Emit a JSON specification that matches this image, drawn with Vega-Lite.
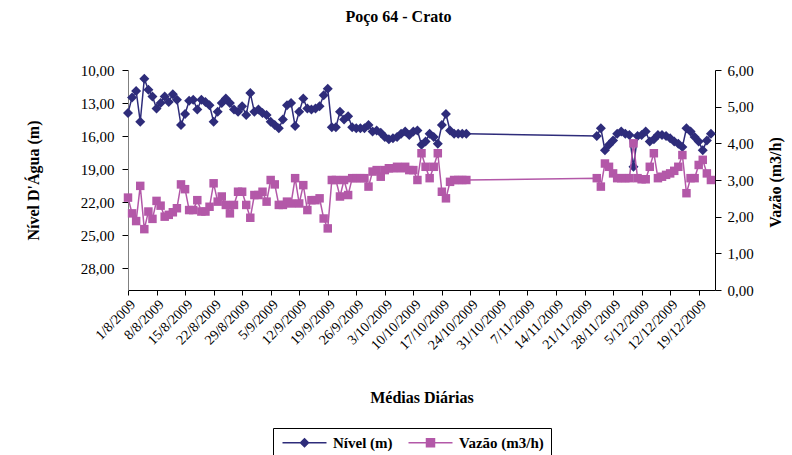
{
  "$schema": "https://vega.github.io/schema/vega-lite/v6.json",
  "width": 587,
  "height": 220,
  "autosize": "none",
  "padding": {"left": 128, "top": 70, "right": 77, "bottom": 165},
  "background": "white",
  "config": {
    "font": "Liberation Serif",
    "view": {"stroke": null},
    "axis": {"grid": false, "labelColor": "black", "titleColor": "black", "tickColor": "black", "domainColor": "black", "labelFont": "Liberation Serif", "titleFont": "Liberation Serif"}
  },
  "title": {"text": "Poço 64 - Crato", "font": "Liberation Serif", "fontSize": 16, "fontWeight": "bold", "color": "black", "anchor": "middle", "offset": 38, "dx": -23},
  "data": {"values": [
    {"dia": "2009-08-01", "nivel": 13.9, "vazao": 2.52},
    {"dia": "2009-08-02", "nivel": 12.5, "vazao": 2.09},
    {"dia": "2009-08-03", "nivel": 11.9, "vazao": 1.88},
    {"dia": "2009-08-04", "nivel": 14.7, "vazao": 2.84},
    {"dia": "2009-08-05", "nivel": 10.8, "vazao": 1.66},
    {"dia": "2009-08-06", "nivel": 11.8, "vazao": 2.14},
    {"dia": "2009-08-07", "nivel": 12.4, "vazao": 1.94},
    {"dia": "2009-08-08", "nivel": 13.5, "vazao": 2.43},
    {"dia": "2009-08-09", "nivel": 13.0, "vazao": 2.30},
    {"dia": "2009-08-10", "nivel": 12.4, "vazao": 2.00},
    {"dia": "2009-08-11", "nivel": 12.9, "vazao": 2.05},
    {"dia": "2009-08-12", "nivel": 12.2, "vazao": 2.12},
    {"dia": "2009-08-13", "nivel": 12.7, "vazao": 2.23},
    {"dia": "2009-08-14", "nivel": 15.0, "vazao": 2.88},
    {"dia": "2009-08-15", "nivel": 14.0, "vazao": 2.75},
    {"dia": "2009-08-16", "nivel": 12.8, "vazao": 2.18},
    {"dia": "2009-08-17", "nivel": 12.7, "vazao": 2.18},
    {"dia": "2009-08-18", "nivel": 13.6, "vazao": 2.45},
    {"dia": "2009-08-19", "nivel": 12.7, "vazao": 2.14},
    {"dia": "2009-08-20", "nivel": 12.9, "vazao": 2.14},
    {"dia": "2009-08-21", "nivel": 13.2, "vazao": 2.27},
    {"dia": "2009-08-22", "nivel": 14.7, "vazao": 2.91},
    {"dia": "2009-08-23", "nivel": 13.8, "vazao": 2.41},
    {"dia": "2009-08-24", "nivel": 13.0, "vazao": 2.55},
    {"dia": "2009-08-25", "nivel": 12.6, "vazao": 2.32},
    {"dia": "2009-08-26", "nivel": 13.0, "vazao": 2.09},
    {"dia": "2009-08-27", "nivel": 13.6, "vazao": 2.32},
    {"dia": "2009-08-28", "nivel": 13.8, "vazao": 2.68},
    {"dia": "2009-08-29", "nivel": 13.3, "vazao": 2.68},
    {"dia": "2009-08-30", "nivel": 14.1, "vazao": 2.32},
    {"dia": "2009-08-31", "nivel": 12.1, "vazao": 1.97},
    {"dia": "2009-09-01", "nivel": 13.8, "vazao": 2.59},
    {"dia": "2009-09-02", "nivel": 13.6, "vazao": 2.59},
    {"dia": "2009-09-03", "nivel": 13.9, "vazao": 2.68},
    {"dia": "2009-09-04", "nivel": 14.1, "vazao": 2.41},
    {"dia": "2009-09-05", "nivel": 14.7, "vazao": 3.00},
    {"dia": "2009-09-06", "nivel": 15.0, "vazao": 2.88},
    {"dia": "2009-09-07", "nivel": 15.3, "vazao": 2.32},
    {"dia": "2009-09-08", "nivel": 14.5, "vazao": 2.32},
    {"dia": "2009-09-09", "nivel": 13.2, "vazao": 2.41},
    {"dia": "2009-09-10", "nivel": 13.0, "vazao": 2.36},
    {"dia": "2009-09-11", "nivel": 15.1, "vazao": 3.05},
    {"dia": "2009-09-12", "nivel": 13.8, "vazao": 2.36},
    {"dia": "2009-09-13", "nivel": 12.6, "vazao": 2.86},
    {"dia": "2009-09-14", "nivel": 13.5, "vazao": 2.18},
    {"dia": "2009-09-15", "nivel": 13.6, "vazao": 2.45},
    {"dia": "2009-09-16", "nivel": 13.5, "vazao": 2.45},
    {"dia": "2009-09-17", "nivel": 13.3, "vazao": 2.50},
    {"dia": "2009-09-18", "nivel": 12.3, "vazao": 1.95},
    {"dia": "2009-09-19", "nivel": 11.7, "vazao": 1.68},
    {"dia": "2009-09-20", "nivel": 15.2, "vazao": 3.00},
    {"dia": "2009-09-21", "nivel": 15.2, "vazao": 3.00},
    {"dia": "2009-09-22", "nivel": 13.8, "vazao": 2.55},
    {"dia": "2009-09-23", "nivel": 14.5, "vazao": 3.00},
    {"dia": "2009-09-24", "nivel": 14.2, "vazao": 2.59},
    {"dia": "2009-09-25", "nivel": 15.2, "vazao": 3.05},
    {"dia": "2009-09-26", "nivel": 15.3, "vazao": 3.05},
    {"dia": "2009-09-27", "nivel": 15.3, "vazao": 3.05},
    {"dia": "2009-09-28", "nivel": 15.3, "vazao": 3.05},
    {"dia": "2009-09-29", "nivel": 15.0, "vazao": 2.82},
    {"dia": "2009-09-30", "nivel": 15.6, "vazao": 3.23},
    {"dia": "2009-10-01", "nivel": 15.5, "vazao": 3.27},
    {"dia": "2009-10-02", "nivel": 15.7, "vazao": 3.09},
    {"dia": "2009-10-03", "nivel": 16.1, "vazao": 3.27},
    {"dia": "2009-10-04", "nivel": 16.3, "vazao": 3.32},
    {"dia": "2009-10-05", "nivel": 16.2, "vazao": 3.32},
    {"dia": "2009-10-06", "nivel": 16.1, "vazao": 3.36},
    {"dia": "2009-10-07", "nivel": 15.8, "vazao": 3.32},
    {"dia": "2009-10-08", "nivel": 15.6, "vazao": 3.36},
    {"dia": "2009-10-09", "nivel": 15.9, "vazao": 3.27},
    {"dia": "2009-10-10", "nivel": 15.6, "vazao": 3.27},
    {"dia": "2009-10-11", "nivel": 15.5, "vazao": 3.00},
    {"dia": "2009-10-12", "nivel": 16.8, "vazao": 3.73},
    {"dia": "2009-10-13", "nivel": 16.5, "vazao": 3.36},
    {"dia": "2009-10-14", "nivel": 15.8, "vazao": 3.05},
    {"dia": "2009-10-15", "nivel": 16.1, "vazao": 3.36},
    {"dia": "2009-10-16", "nivel": 16.7, "vazao": 3.73},
    {"dia": "2009-10-17", "nivel": 15.0, "vazao": 2.68},
    {"dia": "2009-10-18", "nivel": 14.0, "vazao": 2.50},
    {"dia": "2009-10-19", "nivel": 15.5, "vazao": 2.95},
    {"dia": "2009-10-20", "nivel": 15.8, "vazao": 3.00},
    {"dia": "2009-10-21", "nivel": 15.8, "vazao": 3.00},
    {"dia": "2009-10-22", "nivel": 15.8, "vazao": 3.00},
    {"dia": "2009-10-23", "nivel": 15.8, "vazao": 3.00},
    {"dia": "2009-11-24", "nivel": 16.0, "vazao": 3.05},
    {"dia": "2009-11-25", "nivel": 15.3, "vazao": 2.82},
    {"dia": "2009-11-26", "nivel": 17.3, "vazao": 3.45},
    {"dia": "2009-11-27", "nivel": 16.8, "vazao": 3.36},
    {"dia": "2009-11-28", "nivel": 16.4, "vazao": 3.18},
    {"dia": "2009-11-29", "nivel": 15.8, "vazao": 3.05},
    {"dia": "2009-11-30", "nivel": 15.6, "vazao": 3.05},
    {"dia": "2009-12-01", "nivel": 15.8, "vazao": 3.05},
    {"dia": "2009-12-02", "nivel": 15.9, "vazao": 3.05},
    {"dia": "2009-12-03", "nivel": 18.8, "vazao": 4.00},
    {"dia": "2009-12-04", "nivel": 16.0, "vazao": 3.05},
    {"dia": "2009-12-05", "nivel": 15.9, "vazao": 3.02},
    {"dia": "2009-12-06", "nivel": 15.6, "vazao": 3.02},
    {"dia": "2009-12-07", "nivel": 16.5, "vazao": 3.36},
    {"dia": "2009-12-08", "nivel": 16.3, "vazao": 3.73},
    {"dia": "2009-12-09", "nivel": 15.9, "vazao": 3.05},
    {"dia": "2009-12-10", "nivel": 15.9, "vazao": 3.09},
    {"dia": "2009-12-11", "nivel": 16.0, "vazao": 3.14},
    {"dia": "2009-12-12", "nivel": 16.2, "vazao": 3.18},
    {"dia": "2009-12-13", "nivel": 16.5, "vazao": 3.25},
    {"dia": "2009-12-14", "nivel": 16.7, "vazao": 3.36},
    {"dia": "2009-12-15", "nivel": 17.0, "vazao": 3.68},
    {"dia": "2009-12-16", "nivel": 15.3, "vazao": 2.64},
    {"dia": "2009-12-17", "nivel": 15.6, "vazao": 3.05},
    {"dia": "2009-12-18", "nivel": 16.1, "vazao": 3.05},
    {"dia": "2009-12-19", "nivel": 16.5, "vazao": 3.41},
    {"dia": "2009-12-20", "nivel": 17.3, "vazao": 3.55},
    {"dia": "2009-12-21", "nivel": 16.4, "vazao": 3.18},
    {"dia": "2009-12-22", "nivel": 15.8, "vazao": 3.00}
  ]},
  "encoding": {
    "x": {
      "field": "dia", "type": "temporal",
      "scale": {"type": "utc", "domain": [{"year": 2009, "month": 8, "date": 1, "utc": true}, {"year": 2009, "month": 12, "date": 23, "utc": true}]},
      "axis": {
        "values": [
          {"year": 2009, "month": 8, "date": 1, "utc": true},
          {"year": 2009, "month": 8, "date": 8, "utc": true},
          {"year": 2009, "month": 8, "date": 15, "utc": true},
          {"year": 2009, "month": 8, "date": 22, "utc": true},
          {"year": 2009, "month": 8, "date": 29, "utc": true},
          {"year": 2009, "month": 9, "date": 5, "utc": true},
          {"year": 2009, "month": 9, "date": 12, "utc": true},
          {"year": 2009, "month": 9, "date": 19, "utc": true},
          {"year": 2009, "month": 9, "date": 26, "utc": true},
          {"year": 2009, "month": 10, "date": 3, "utc": true},
          {"year": 2009, "month": 10, "date": 10, "utc": true},
          {"year": 2009, "month": 10, "date": 17, "utc": true},
          {"year": 2009, "month": 10, "date": 24, "utc": true},
          {"year": 2009, "month": 10, "date": 31, "utc": true},
          {"year": 2009, "month": 11, "date": 7, "utc": true},
          {"year": 2009, "month": 11, "date": 14, "utc": true},
          {"year": 2009, "month": 11, "date": 21, "utc": true},
          {"year": 2009, "month": 11, "date": 28, "utc": true},
          {"year": 2009, "month": 12, "date": 5, "utc": true},
          {"year": 2009, "month": 12, "date": 12, "utc": true},
          {"year": 2009, "month": 12, "date": 19, "utc": true}
        ],
        "labelExpr": "utcFormat(datum.value, '%-d/%-m/%Y')",
        "labelAngle": -45, "labelFontSize": 14, "labelPadding": 2, "tickSize": 5,
        "labelOverlap": false, "labelFlush": false, "labelBound": false,
        "title": "Médias Diárias", "titleFontSize": 16, "titleFontWeight": "bold", "titleY": 107, "titleBaseline": "middle"
      }
    }
  },
  "layer": [
    {
      "encoding": {
        "y": {
          "field": "nivel", "type": "quantitative",
          "scale": {"domain": [10, 30], "reverse": true, "zero": false, "nice": false},
          "axis": {
            "orient": "left", "values": [10, 13, 16, 19, 22, 25, 28],
            "labelExpr": "replace(format(datum.value, '.2f'), '.', ',')",
            "labelFontSize": 15, "tickSize": 6, "labelPadding": 8, "domainColor": "#808080",
            "title": "Nível D'Água (m)", "titleFontSize": 16, "titleFontWeight": "bold",
            "titleX": -95, "titleY": 110, "titleAngle": -90, "titleAlign": "center", "titleBaseline": "middle"
          }
        }
      },
      "layer": [
        {
          "mark": {"type": "line", "strokeWidth": 1.5},
          "encoding": {
            "color": {
              "datum": "Nível (m)", "type": "nominal",
              "scale": {"domain": ["Nível (m)", "Vazão (m3/h)"], "range": ["#2E2C7A", "#B358A8"]},
              "legend": {
                "orient": "none", "legendX": 145, "legendY": 358, "direction": "horizontal", "columns": 2,
                "title": null, "strokeColor": "black", "fillColor": "white", "padding": 7,
                "labelFont": "Liberation Serif", "labelFontSize": 15, "labelFontWeight": "bold", "labelColor": "black", "labelLimit": 300,
                "symbolSize": 100, "labelOffset": 38, "columnPadding": 12,
                "encode": {
                  "symbols": {
                    "update": {
                      "shape": {"signal": "datum.value === 'Nível (m)' ? 'M-1,0H7.8M3.4,-0.8L4.2,0L3.4,0.8L2.6,0Z' : 'M-1,0H7.8M2.6,-0.8H4.2V0.8H2.6Z'"},
                      "fill": {"signal": "datum.value === 'Nível (m)' ? '#2E2C7A' : '#B358A8'"},
                      "stroke": {"signal": "datum.value === 'Nível (m)' ? '#2E2C7A' : '#B358A8'"},
                      "strokeWidth": {"value": 1.5},
                      "opacity": {"value": 1}
                    }
                  }
                }
              }
            }
          }
        },
        {
          "mark": {"type": "point", "shape": "diamond", "filled": true, "size": 100, "opacity": 1},
          "encoding": {"color": {"datum": "Nível (m)", "type": "nominal"}}
        }
      ]
    },
    {
      "encoding": {
        "y": {
          "field": "vazao", "type": "quantitative",
          "scale": {"domain": [0, 6], "nice": false},
          "axis": {
            "orient": "right", "values": [0, 1, 2, 3, 4, 5, 6],
            "labelExpr": "replace(format(datum.value, '.2f'), '.', ',')",
            "labelFontSize": 15, "tickSize": 6, "labelPadding": 6,
            "title": "Vazão (m3/h)", "titleFontSize": 16, "titleFontWeight": "bold",
            "titleX": 60, "titleY": 112, "titleAngle": -90, "titleAlign": "center", "titleBaseline": "middle"
          }
        }
      },
      "layer": [
        {
          "mark": {"type": "line", "strokeWidth": 1.5},
          "encoding": {"color": {"datum": "Vazão (m3/h)", "type": "nominal"}}
        },
        {
          "mark": {"type": "point", "shape": "square", "filled": true, "size": 72, "opacity": 1},
          "encoding": {"color": {"datum": "Vazão (m3/h)", "type": "nominal"}}
        }
      ]
    }
  ],
  "resolve": {"scale": {"y": "independent"}}
}
